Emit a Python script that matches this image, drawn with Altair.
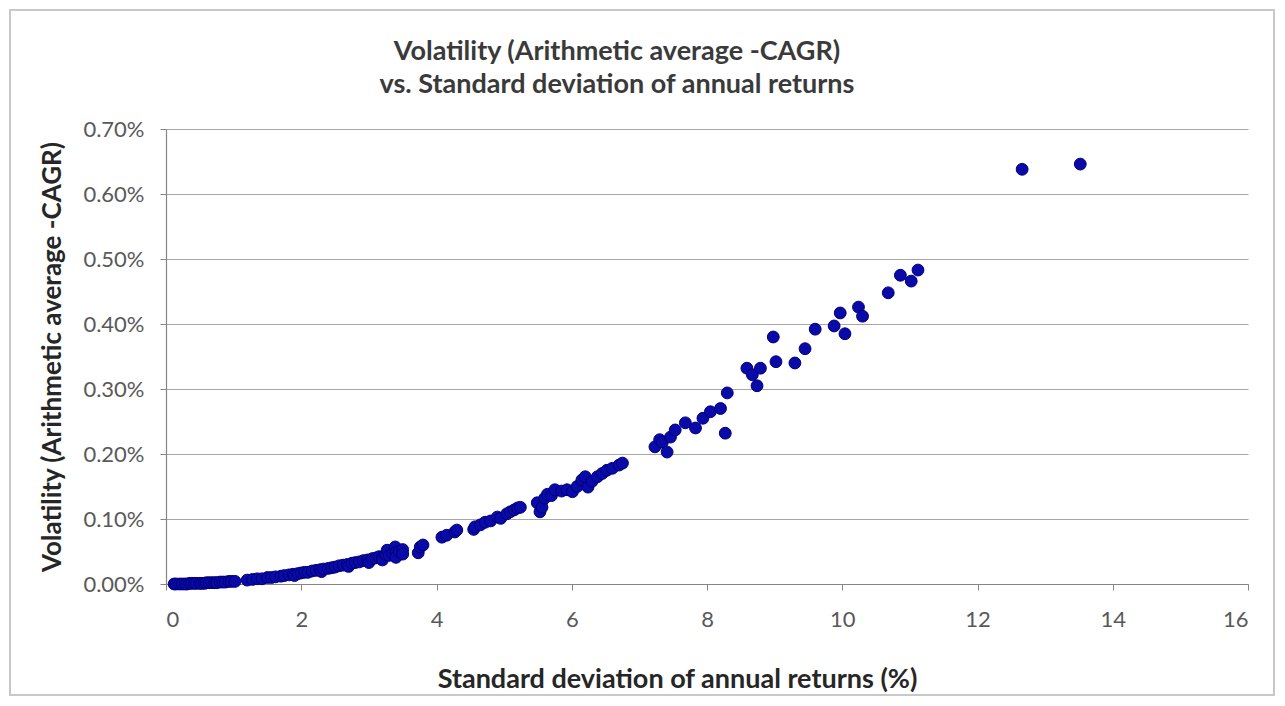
import altair as alt
import pandas as pd

# Standard deviation of annual returns (%)
std_dev = [
    0.12, 0.15, 0.20, 0.24, 0.28, 0.31, 0.35, 0.38, 0.42, 0.45, 0.50, 0.53,
    0.57, 0.60, 0.64, 0.68, 0.72, 0.75, 0.80, 0.84, 0.88, 0.93, 0.97, 1.02,
    1.20, 1.28, 1.35, 1.42, 1.50, 1.56, 1.62, 1.70, 1.75, 1.82, 1.88, 1.90,
    1.95, 2.00, 2.05, 2.10, 2.16, 2.22, 2.28, 2.30, 2.33, 2.40, 2.45, 2.50,
    2.56, 2.62, 2.68, 2.70, 2.75, 2.80, 2.86, 2.92, 2.98, 3.00, 3.05, 3.10,
    3.15, 3.20, 3.20, 3.25, 3.27, 3.30, 3.35, 3.39, 3.40, 3.40, 3.45, 3.50,
    3.50, 3.73, 3.76, 3.80, 4.08, 4.15, 4.27, 4.30, 4.55, 4.57, 4.65, 4.72,
    4.80, 4.90, 4.95, 5.04, 5.09, 5.15, 5.20, 5.24, 5.49, 5.53, 5.56, 5.60,
    5.64, 5.70, 5.75, 5.85, 5.93, 6.01, 6.08, 6.15, 6.20, 6.24, 6.30, 6.38,
    6.45, 6.52, 6.60, 6.70, 6.75, 7.23, 7.30, 7.34, 7.41, 7.46, 7.53, 7.68,
    7.83, 7.94, 8.05, 8.20, 8.30, 8.27, 8.59, 8.67, 8.74, 8.79, 8.98, 9.02,
    9.30, 9.45, 9.60, 9.88, 9.97, 10.04, 10.24, 10.30, 10.68, 10.86, 11.02,
    11.12, 12.66, 13.52,
]

# Volatility (Arithmetic average - CAGR), in percent
volatility = [
    0.000, 0.000, 0.000, 0.000, 0.000, 0.000, 0.001, 0.001, 0.001, 0.001, 0.001, 0.001,
    0.001, 0.002, 0.002, 0.002, 0.002, 0.002, 0.003, 0.003, 0.003, 0.004, 0.004, 0.004,
    0.006, 0.007, 0.008, 0.008, 0.010, 0.010, 0.011, 0.012, 0.013, 0.014, 0.015, 0.013,
    0.016, 0.017, 0.018, 0.018, 0.020, 0.021, 0.022, 0.019, 0.023, 0.024, 0.025, 0.026,
    0.028, 0.029, 0.030, 0.027, 0.032, 0.033, 0.034, 0.036, 0.037, 0.033, 0.039, 0.040,
    0.042, 0.041, 0.037, 0.045, 0.052, 0.044, 0.047, 0.057, 0.049, 0.041, 0.050, 0.053,
    0.046, 0.048, 0.057, 0.060, 0.072, 0.075, 0.080, 0.083, 0.084, 0.088, 0.091, 0.095,
    0.097, 0.103, 0.101, 0.108, 0.111, 0.114, 0.117, 0.118, 0.125, 0.111, 0.118, 0.132,
    0.138, 0.136, 0.145, 0.143, 0.145, 0.142, 0.150, 0.160, 0.165, 0.149, 0.158, 0.165,
    0.170, 0.175, 0.178, 0.183, 0.186, 0.211, 0.222, 0.218, 0.203, 0.226, 0.237, 0.248,
    0.240, 0.255, 0.265, 0.270, 0.294, 0.232, 0.332, 0.322, 0.305, 0.332, 0.380, 0.342,
    0.340, 0.362, 0.392, 0.397, 0.417, 0.385, 0.426, 0.412, 0.448, 0.475, 0.466,
    0.483, 0.638, 0.646,
]

title_lines = ["Volatility (Arithmetic average -CAGR)", "vs. Standard deviation of annual returns"]
x_title = "Standard deviation of annual returns (%)"
y_title = "Volatility (Arithmetic average -CAGR)"
x_ticks = [0, 2, 4, 6, 8, 10, 12, 14, 16]
y_ticks = [0.0, 0.1, 0.2, 0.3, 0.4, 0.5, 0.6, 0.7]

df = pd.DataFrame({"sd": std_dev, "vol": volatility})
one = pd.DataFrame({"a": [0]})

FONT = "Lato"
W, H = 1082, 455
TITLE_COLOR = "#3A3A3A"

points = alt.Chart(df).mark_circle(
    size=140, color="#0A0AA8", opacity=1, stroke="#00007A", strokeWidth=1
).encode(
    x=alt.X(
        "sd:Q",
        scale=alt.Scale(domain=[0, 16], nice=False),
        axis=alt.Axis(
            values=x_ticks, title=x_title, grid=False, format="d",
            titleFontSize=27, titleX=511, titleY=103,
            titleBaseline="alphabetic", titleAlign="center",
        ),
    ),
    y=alt.Y(
        "vol:Q",
        scale=alt.Scale(domain=[0, 0.7], nice=False),
        axis=alt.Axis(
            values=y_ticks, title=y_title, grid=True,
            labelExpr="format(datum.value, '.2f') + '%'",
            titleFontSize=26, titleX=-106, titleY=H / 2,
            titleBaseline="alphabetic", titleAlign="center", titleAngle=-90,
        ),
    ),
)

frame = alt.Chart(one).mark_rect(
    fill="transparent", stroke="#C8C8C8", strokeWidth=2
).encode(
    x=alt.value(-156), x2=alt.value(1108), y=alt.value(-119), y2=alt.value(566)
)

title1 = alt.Chart(one).mark_text(
    text=title_lines[0], font=FONT, fontSize=27, fontWeight="bold",
    color=TITLE_COLOR, align="center", baseline="alphabetic",
).encode(x=alt.value(451), y=alt.value(-69))

title2 = alt.Chart(one).mark_text(
    text=title_lines[1], font=FONT, fontSize=27, fontWeight="bold",
    color=TITLE_COLOR, align="center", baseline="alphabetic",
).encode(x=alt.value(451), y=alt.value(-36))

chart = alt.layer(frame, title1, title2, points).properties(
    width=W,
    height=H,
    autosize=alt.AutoSizeParams(type="none"),
    padding={"left": 158, "top": 121, "right": 28, "bottom": 114},
).configure_view(stroke=None).configure_axis(
    labelFont=FONT,
    labelFontSize=22,
    labelColor="#595959",
    titleFont=FONT,
    titleFontWeight="bold",
    titleColor="#262626",
    domainColor="#868686",
    tickColor="#868686",
    tickSize=6,
    gridColor="#A6A6A6",
    gridWidth=1.2,
    domainWidth=1.2,
).configure_axisX(labelPadding=19).configure_axisY(labelPadding=16)

chart.save("out.html", embed_options={"renderer": "svg", "actions": False})
